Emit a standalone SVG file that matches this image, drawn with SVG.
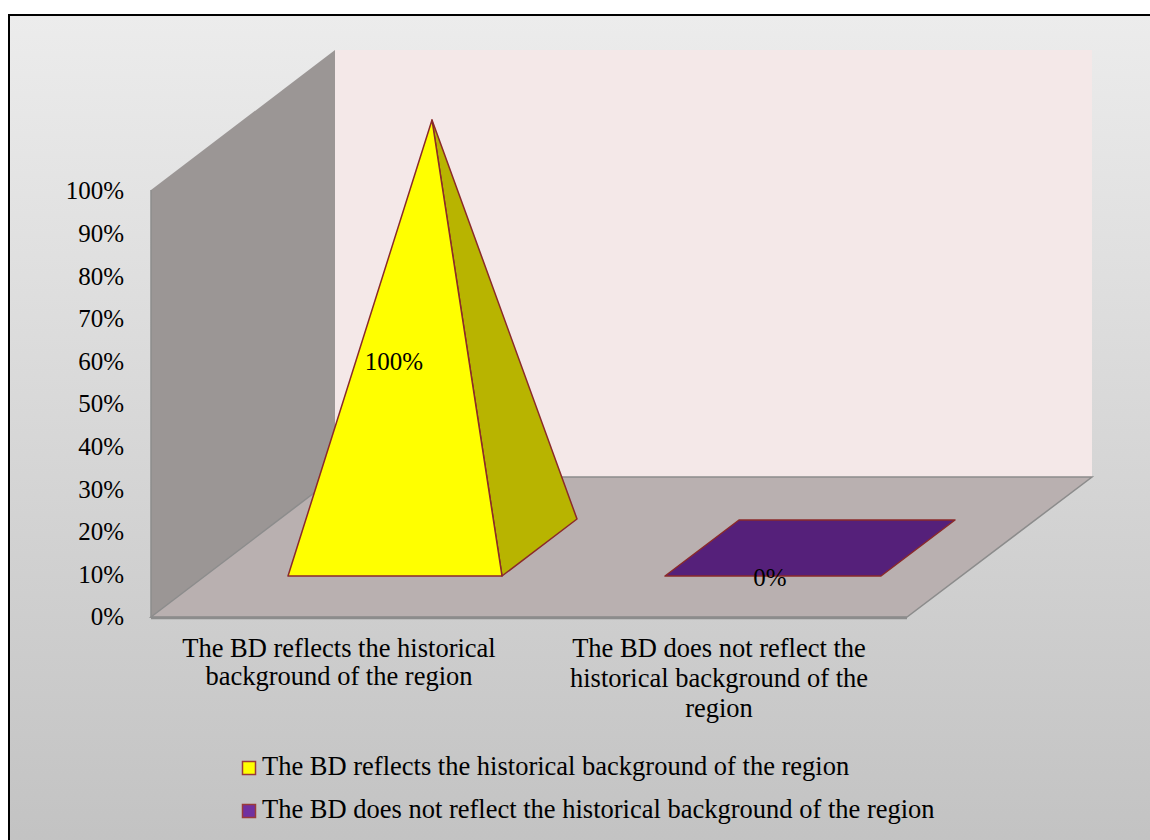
<svg xmlns="http://www.w3.org/2000/svg" width="1150" height="840" viewBox="0 0 1150 840">
<defs>
<linearGradient id="bg" x1="0" y1="0" x2="0" y2="1">
<stop offset="0" stop-color="#ececec"/>
<stop offset="1" stop-color="#c2c2c2"/>
</linearGradient>
</defs>
<style>
.t{font-family:"Liberation Serif","Times New Roman",serif;font-size:26.5px;fill:#000}
.n{font-family:"Liberation Serif","Times New Roman",serif;font-size:25px;fill:#000}
.ax{text-anchor:end}
.c{text-anchor:middle}
.edge{stroke:#8c8c8c;stroke-width:1.5}
.bar{stroke:#8b2a2a;stroke-width:1.5;stroke-linejoin:round}
</style>
<rect x="0" y="0" width="1150" height="840" fill="#ffffff"/>
<rect x="9" y="15" width="1150" height="840" fill="url(#bg)" stroke="#000" stroke-width="2"/>
<g id="walls">
<polygon points="335,50 1092,50 1092,477 335,477" fill="#f4e8e8"/>
<polygon points="151,190 335,50 335,477 151,617" fill="#9b9695"/>
<polygon points="151,617 335,477 1092,477 907,617" fill="#b9b0b0" class="edge"/>
<line x1="151" y1="190" x2="151" y2="618" class="edge"/>
<line x1="151" y1="618" x2="907" y2="618" stroke="#8c8c8c" stroke-width="2.5"/>
</g>
<g id="axis">
<text class="n ax" x="124" y="199">100%</text>
<text class="n ax" x="124" y="242">90%</text>
<text class="n ax" x="124" y="285">80%</text>
<text class="n ax" x="124" y="327">70%</text>
<text class="n ax" x="124" y="370">60%</text>
<text class="n ax" x="124" y="412">50%</text>
<text class="n ax" x="124" y="455">40%</text>
<text class="n ax" x="124" y="498">30%</text>
<text class="n ax" x="124" y="540">20%</text>
<text class="n ax" x="124" y="583">10%</text>
<text class="n ax" x="124" y="625">0%</text>
</g>
<g id="bar1">
<polygon points="432,120 502,576 577,519" fill="#b8b400" class="bar"/>
<polygon points="432,120 288,576 502,576" fill="#ffff00" class="bar"/>
<text class="n c" x="394" y="370">100%</text>
</g>
<g id="bar2">
<polygon points="665,576 881,576 955,520 739,520" fill="#55207a" class="bar"/>
<text class="n c" x="770" y="586">0%</text>
</g>
<g id="categories">
<text class="t c" x="339" y="657">The BD reflects the historical</text>
<text class="t c" x="339" y="685">background of the region</text>
<text class="t c" x="719" y="657">The BD does not reflect the</text>
<text class="t c" x="719" y="687">historical background of the</text>
<text class="t c" x="719" y="717">region</text>
</g>
<g id="legend">
<rect x="242.5" y="761.5" width="13" height="13" fill="#ffff00" stroke="#9b3a3a" stroke-width="1.5"/>
<text class="t" x="262" y="775">The BD reflects the historical background of the region</text>
<rect x="242.5" y="804.5" width="13" height="13" fill="#7030a0" stroke="#9b3a3a" stroke-width="1.5"/>
<text class="t" x="262" y="818">The BD does not reflect the historical background of the region</text>
</g>
</svg>
